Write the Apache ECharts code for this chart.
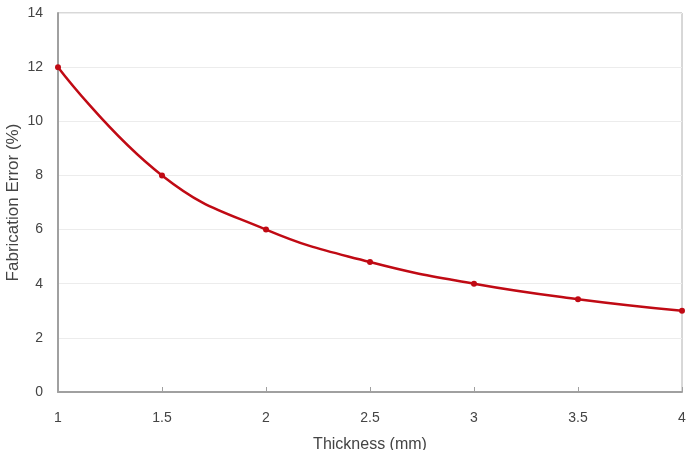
<!DOCTYPE html>
<html>
<head>
<meta charset="utf-8">
<script src="https://cdn.jsdelivr.net/npm/echarts@6/dist/echarts.min.js"></script>
<style>
    html, body { margin: 0; padding: 0; background: #fff; }
    #chart { width: 691px; height: 450px; }
</style>
</head>
<body>
<div id="chart"></div>
<script>
// thickness (mm) vs fabrication error (%)
var thickness = [1, 1.5, 2, 2.5, 3, 3.5, 4];
var fabError = [12, 8, 6, 4.8, 4, 3.43, 3];

var points = thickness.map(function (t, i) {
    return [t, fabError[i]];
});

var chart = echarts.init(document.getElementById("chart"));
chart.setOption({
    animation: false,
    textStyle: {
        fontFamily: "Liberation Sans"
    },
    grid: {
        left: 58,
        right: 9,
        top: 13,
        bottom: 58,
        outerBoundsMode: "none",
        containLabel: false,
        show: true,
        borderColor: "#b0b0b0",
        borderWidth: 1
    },
    xAxis: {
        type: "value",
        min: 1,
        max: 4,
        interval: 0.5,
        name: "Thickness (mm)",
        nameLocation: "middle",
        nameGap: 45,
        nameMoveOverlap: false,
        nameTextStyle: { fontSize: 16, color: "#444" },
        axisLine: { lineStyle: { color: "#a0a0a0", width: 2 } },
        axisTick: { show: true, inside: true, length: 5, lineStyle: { color: "#a0a0a0" } },
        axisLabel: { fontSize: 14, color: "#444", margin: 19 },
        splitLine: { show: false }
    },
    yAxis: {
        type: "value",
        min: 0,
        max: 14,
        interval: 2,
        name: "Fabrication Error (%)",
        nameLocation: "middle",
        nameGap: 36,
        nameMoveOverlap: false,
        nameTextStyle: { fontSize: 17, color: "#444" },
        axisLine: { show: true, lineStyle: { color: "#a0a0a0", width: 2 } },
        axisTick: { show: false },
        axisLabel: { fontSize: 14, color: "#444", margin: 15 },
        splitLine: { lineStyle: { color: "#ececec" } }
    },
    series: [{
        type: "line",
        data: points,
        smooth: 0.45,
        symbol: "circle",
        symbolSize: 6,
        itemStyle: { color: "#c00a14" },
        lineStyle: { color: "#c00a14", width: 2.5 }
    }]
});
</script>
</body>
</html>
